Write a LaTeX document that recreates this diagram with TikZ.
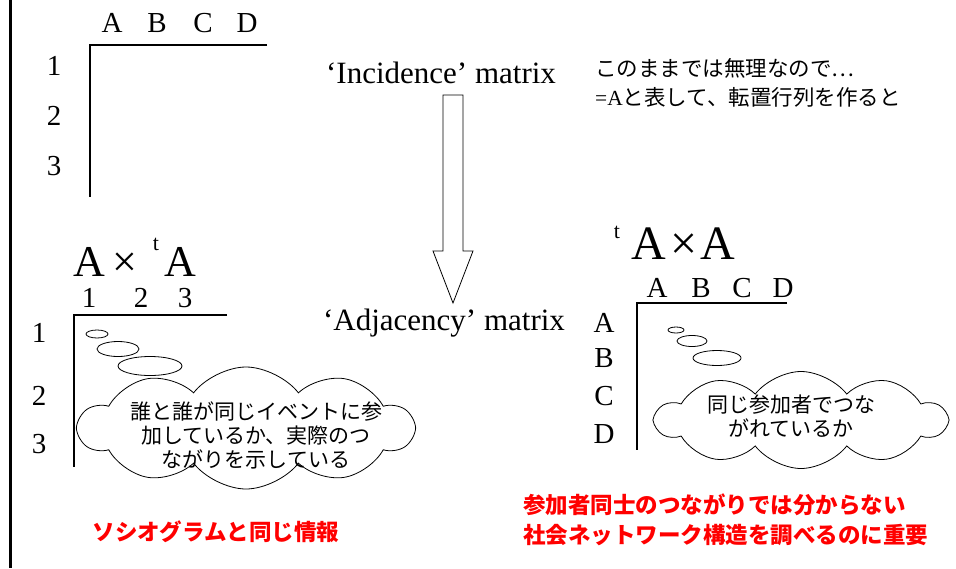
\documentclass[tikz,border=0pt]{standalone}
\usepackage{fontspec}
\setmainfont{Liberation Serif}
\newfontfamily\jp{Noto Sans CJK JP}
\usetikzlibrary{shapes.symbols}
\definecolor{redtext}{RGB}{255,0,0}
\begin{document}
\begin{tikzpicture}[x=1pt,y=-1pt,
  lbl/.style={font=\fontsize{29}{31}\selectfont,inner sep=0pt,anchor=base},
  big/.style={font=\fontsize{44}{46}\selectfont,inner sep=0pt,anchor=base},
  bigr/.style={font=\fontsize{48}{50}\selectfont,inner sep=0pt,anchor=base},
  supt/.style={font=\fontsize{22}{24}\selectfont,inner sep=0pt,anchor=base},
  mat/.style={font=\fontsize{31}{33}\selectfont,inner sep=0pt,anchor=base},
  axis/.style={line width=1.2pt},
  bubble/.style={draw,line width=0.8pt},
  puff/.style={cloud,draw,cloud puffs=10,cloud puff arc=105,cloud ignores aspect,line width=0.8pt,inner sep=0pt},
  jpt/.style={font=\jp\fontsize{21}{24}\selectfont,align=center,inner sep=0pt},
  jpl/.style={font=\jp\fontsize{21.5}{26}\selectfont,inner sep=0pt,anchor=base west},
  redtxt/.style={font=\jp\bfseries\fontsize{22.5}{26}\selectfont,text=redtext,inner sep=0pt,anchor=base west},
  hollow/.style={draw,line width=0.8pt,fill=white}
]
\useasboundingbox (0,0) rectangle (956,568);
% left border
\draw[line width=3pt] (10,0) -- (10,568);

% incidence matrix frame
\node[lbl] (hA) at (112,32) {A};
\node[lbl] (hB) at (157,32) {B};
\node[lbl] (hC) at (203,32) {C};
\node[lbl] (hD) at (247,32) {D};
\node[lbl] (r1) at (54,75) {1};
\node[lbl] (r2) at (54,125) {2};
\node[lbl] (r3) at (54,175) {3};
\coordinate (ic) at (90,45);
\draw[axis] (267,45) -- (ic) -- (90,197);

% labels
\node[mat] (inc) at (441,83) {‘Incidence’ matrix};
\node[mat] (adj) at (444,330) {‘Adjacency’ matrix};
% hollow arrow
\draw[hollow] (443,95) -- (463,95) -- (463,251) -- (473,251) -- (453,303) -- (433,251) -- (443,251) -- cycle;

% top right note
\node[jpl] (n1) at (595,76) {このままでは無理なので…};
\node[jpl] (n2) at (595,105) {{\rmfamily =A}と表して、転置行列を作ると};

% A x tA
\node[big] (la1) at (89,276) {A};
\node[big] (lx) at (125,276) {×};
\node[supt] (lt) at (156,250) {t};
\node[big] (la2) at (180,276) {A};
\node[lbl] (c1) at (89,307) {1};
\node[lbl] (c2) at (141,307) {2};
\node[lbl] (c3) at (185,307) {3};
\node[lbl] (s1) at (39,342) {1};
\node[lbl] (s2) at (39,405) {2};
\node[lbl] (s3) at (39,453) {3};
\coordinate (lc) at (74,315);
\draw[axis] (227,315) -- (lc) -- (74,467);
\draw[bubble] (97,334) ellipse [x radius=11,y radius=4];
\draw[bubble] (118,349) ellipse [x radius=21,y radius=7.5];
\draw[bubble] (150,366) ellipse [x radius=32,y radius=9.5];
\node[puff,minimum width=334,minimum height=122] (cl) at (246,428) {};
\node[jpt] (clt) at (256,435) {誰と誰が同じイベントに参\\加しているか、実際のつ\\ながりを示している};

% tA x A
\node[supt] (rt) at (617,238) {t};
\node[bigr] (ra1) at (649,259) {A};
\node[bigr] (rx) at (684,259) {×};
\node[bigr] (ra2) at (718,259) {A};
\node[lbl] (hA2) at (657,297) {A};
\node[lbl] (hB2) at (701,297) {B};
\node[lbl] (hC2) at (742,297) {C};
\node[lbl] (hD2) at (783,297) {D};
\node[lbl] (rA) at (604,332) {A};
\node[lbl] (rB) at (604,367) {B};
\node[lbl] (rC) at (604,405) {C};
\node[lbl] (rD) at (604,443) {D};
\coordinate (rc) at (637,303);
\draw[axis] (787,303) -- (rc) -- (637,450);
\draw[bubble] (676,330) ellipse [x radius=8,y radius=3];
\draw[bubble] (692,341) ellipse [x radius=15,y radius=5.5];
\draw[bubble] (717,358) ellipse [x radius=24,y radius=7.5];
\node[puff,minimum width=290,minimum height=97] (cr) at (801,420) {};
\node[jpt] (crt) at (791,416) {同じ参加者でつな\\がれているか};

% red notes
\node[redtxt,anchor=base] (red1) at (216,540) {ソシオグラムと同じ情報};
\node[redtxt] (red2) at (523,513) {参加者同士のつながりでは分からない};
\node[redtxt] (red3) at (523,543) {社会ネットワーク構造を調べるのに重要};
\end{tikzpicture}
\end{document}
